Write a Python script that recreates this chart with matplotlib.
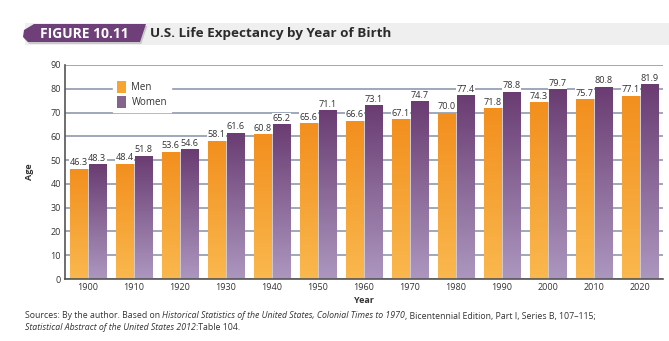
import numpy as np
import matplotlib
matplotlib.use("Agg")
from matplotlib import pyplot as plt
from matplotlib.patches import Polygon, Rectangle, Patch
from matplotlib.colors import LinearSegmentedColormap

# Data
years = ["1900", "1910", "1920", "1930", "1940", "1950", "1960",
         "1970", "1980", "1990", "2000", "2010", "2020"]
men = [46.3, 48.4, 53.6, 58.1, 60.8, 65.6, 66.6, 67.1, 70.0, 71.8, 74.3, 75.7, 77.1]
women = [48.3, 51.8, 54.6, 61.6, 65.2, 71.1, 73.1, 74.7, 77.4, 78.8, 79.7, 80.8, 81.9]

# Style options
FONT = "Open Sans"
TXTCOLOR = "#333333"
GRIDCOLOR = "#8E9AAE"
MEN_TOP, MEN_BOT = "#F28F1E", "#FAB84E"
WOM_TOP, WOM_BOT = "#6A3C72", "#AC97BF"
BARW = 0.37
OFFSET = 0.2
NOTESIZE = 6.3

plt.rcParams["font.family"] = [FONT, "DejaVu Sans"]

fig = plt.figure(figsize=(6.69, 3.41), dpi=100)
ax = fig.add_axes([0.0972, 0.1818, 0.8938, 0.6276])

x = np.arange(len(years))


def gradient_bars(xpos, heights, top, bottom):
    cmap = LinearSegmentedColormap.from_list("g", [bottom, top])
    grad = np.linspace(0, 1, 256).reshape(-1, 1)
    # soft shadow to the right
    ax.bar(xpos + 0.035, heights, BARW, color="#cfc8d4", zorder=2, linewidth=0)
    bars = ax.bar(xpos, heights, BARW, color="none", zorder=3, linewidth=0)
    for b in bars:
        x0, w, h = b.get_x(), b.get_width(), b.get_height()
        im = ax.imshow(grad, cmap=cmap, origin="lower", aspect="auto",
                       extent=(x0, x0 + w, 0, h), zorder=3, vmin=0, vmax=1)
        im.set_clip_path(b)
    return bars


gradient_bars(x - OFFSET, men, MEN_TOP, MEN_BOT)
gradient_bars(x + OFFSET, women, WOM_TOP, WOM_BOT)
ax.set_xlim(-0.5, len(years) - 0.5)
ax.set_ylim(0, 90)

# value labels
for xs, vals in ((x - OFFSET, men), (x + OFFSET, women)):
    for xi, v in zip(xs, vals):
        ax.text(xi, v + 0.6, f"{v:.1f}", ha="center", va="bottom",
                fontsize=6.6, color=TXTCOLOR, zorder=4,
                bbox=dict(facecolor="white", edgecolor="none", pad=0.3))

# axes styling
ax.set_yticks(range(0, 91, 10))
ax.set_xticks(x)
ax.set_xticklabels(years)
ax.tick_params(length=0, labelsize=6.5, labelcolor=TXTCOLOR, pad=3)
ax.yaxis.grid(True, color=GRIDCOLOR, linewidth=1.2, zorder=1)
ax.set_axisbelow(True)
for s in ("top", "right"):
    ax.spines[s].set_visible(False)
for s in ("left", "bottom"):
    ax.spines[s].set_color("#555555")
    ax.spines[s].set_linewidth(1.2)
    ax.spines[s].set_zorder(5)

ax.set_ylabel("Age", fontsize=6.5, fontweight="bold", color=TXTCOLOR, labelpad=12)
ax.set_xlabel("Year", fontsize=6.5, fontweight="bold", color=TXTCOLOR, labelpad=3)

# legend
handles = [Patch(facecolor="#F7A431", label="Men"),
           Patch(facecolor="#86638F", label="Women")]
leg = ax.legend(handles=handles, loc="upper left", bbox_to_anchor=(0.072, 0.97),
                fontsize=7, frameon=True, fancybox=False, framealpha=1,
                edgecolor="white", handlelength=0.85, handleheight=1.5,
                handletextpad=0.6, labelspacing=0.3, borderpad=0.45)
leg.set_zorder(6)
for t in leg.get_texts():
    t.set_color(TXTCOLOR)

# header band
fig.patches.append(Rectangle((25 / 669, 1 - 45 / 341), 1, 22 / 341,
                             transform=fig.transFigure, facecolor="#EFEFEF",
                             edgecolor="none", zorder=0))
tab = [(28, 42), (140, 42), (146, 24), (34, 24), (24, 30), (23, 37)]
fig.patches.append(Polygon([(px / 669 + 0.002, 1 - (py + 2) / 341) for px, py in tab],
                           closed=True, transform=fig.transFigure,
                           facecolor="#C9C9C9", edgecolor="none", zorder=1))
fig.patches.append(Polygon([(px / 669, 1 - py / 341) for px, py in tab],
                           closed=True, transform=fig.transFigure,
                           facecolor="#6E3F78", edgecolor="none", zorder=2))
fig.text(84 / 669, 1 - 33.5 / 341, "FIGURE 10.11", color="white", fontsize=10,
         fontweight="bold", ha="center", va="center", zorder=3)
fig.text(150 / 669, 1 - 33.5 / 341, "U.S. Life Expectancy by Year of Birth",
         color="#2b2b2b", fontsize=9.7, fontweight="bold", ha="left", va="center",
         zorder=3)

# sources note with italic parts
line1 = [("Sources: By the author. Based on ", "normal"),
         ("Historical Statistics of the United States, Colonial Times to 1970", "italic"),
         (", Bicentennial Edition, Part I, Series B, 107\u2013115;", "normal")]
line2 = [("Statistical Abstract of the United States 2012", "italic"),
         (":Table 104.", "normal")]

for ypix, parts in ((316, line1), (327, line2)):
    t = ax.annotate(parts[0][0], xy=(25 / 669, 1 - ypix / 341),
                    xycoords="figure fraction", fontsize=NOTESIZE, style=parts[0][1],
                    color=TXTCOLOR, va="center", ha="left", annotation_clip=False)
    for txt, st in parts[1:]:
        t = ax.annotate(txt, xy=(1, 0.5), xycoords=t, fontsize=NOTESIZE, style=st,
                        color=TXTCOLOR, va="center", ha="left",
                        annotation_clip=False)

fig.savefig("out.png", dpi=100)
